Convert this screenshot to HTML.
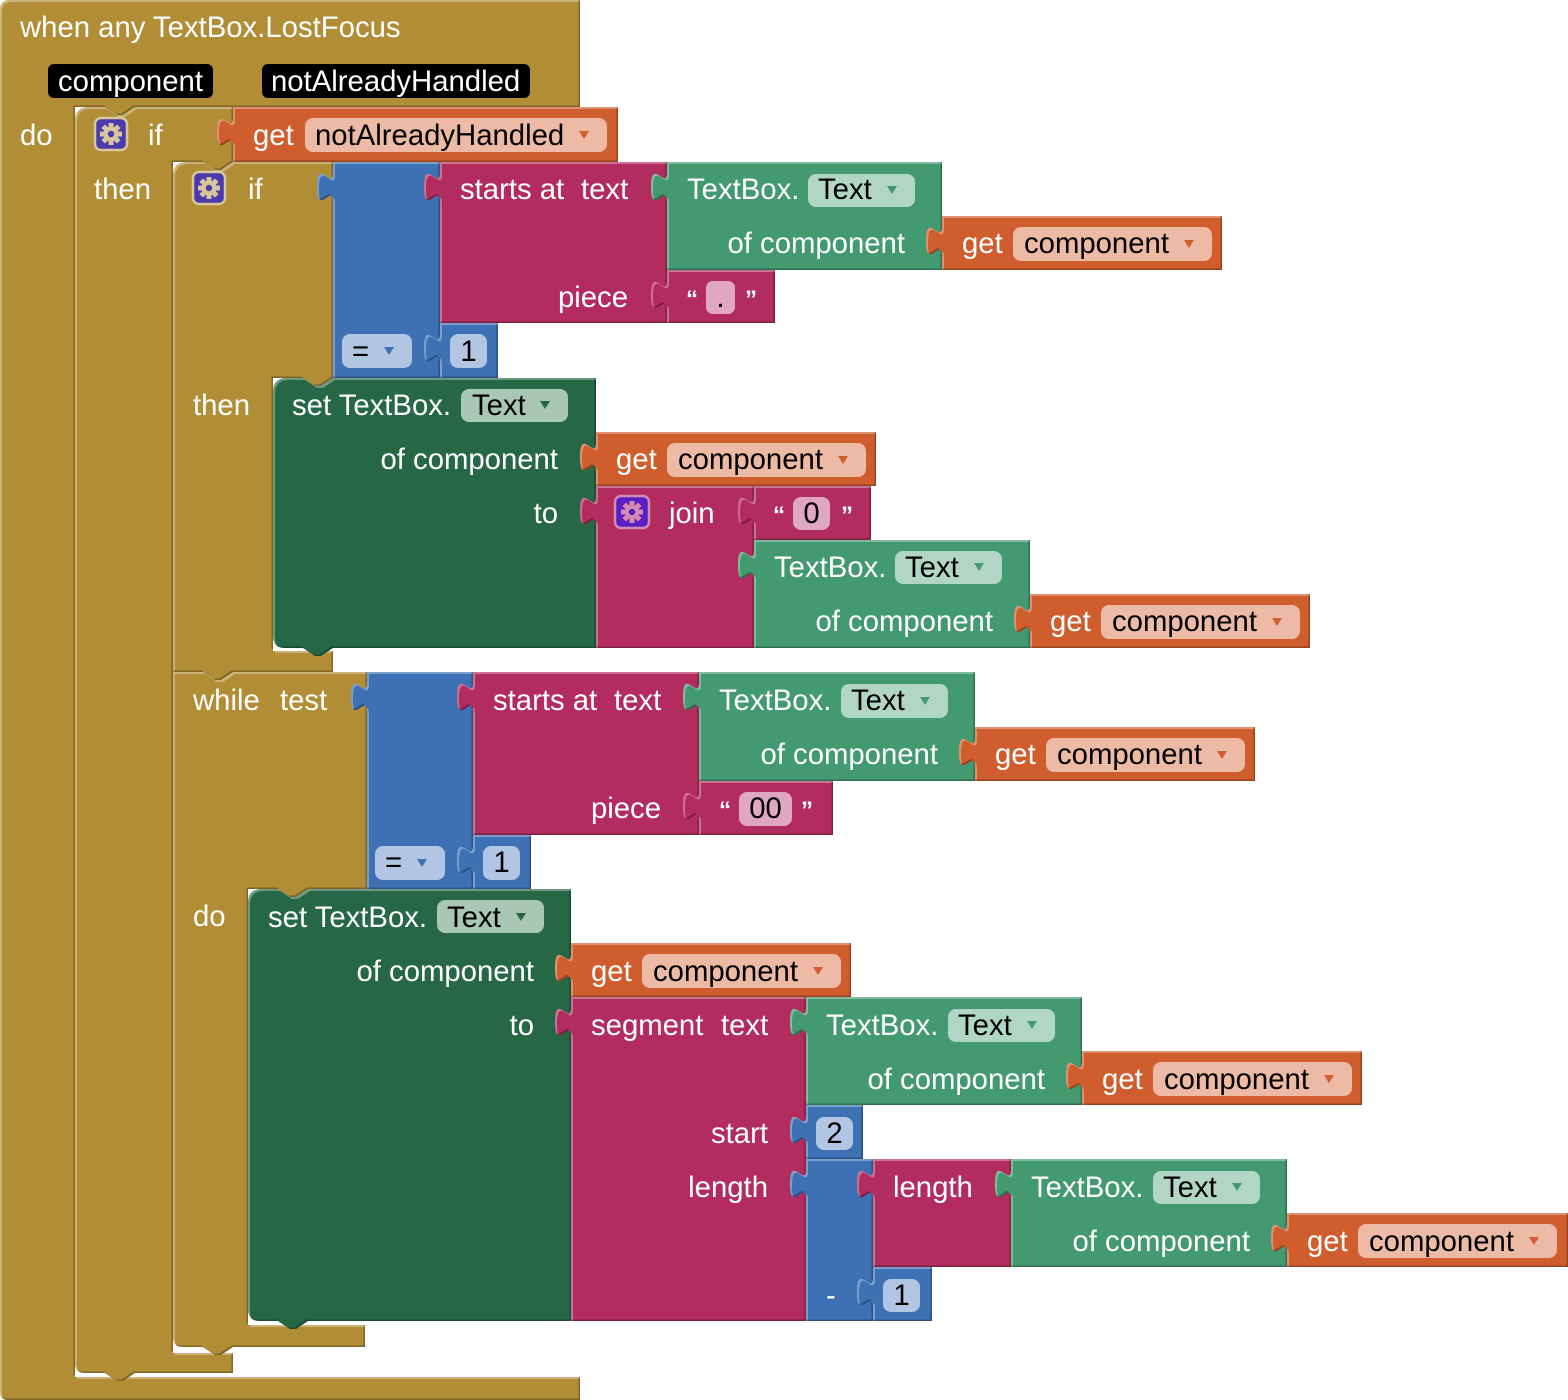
<!DOCTYPE html>
<html>
<head>
<meta charset="utf-8">
<style>
html,body{margin:0;padding:0;background:#fff;}
body{width:1568px;height:1400px;overflow:hidden;}
svg{display:block;}
.t{fill:#fff;font-family:"Liberation Sans",Arial,sans-serif;font-size:29.3px;}
.k{fill:#000;font-family:"Liberation Sans",Arial,sans-serif;font-size:29.3px;}
.q{fill:#fff;font-family:"Liberation Sans",Arial,sans-serif;font-size:24px;font-weight:bold;}
.e{text-anchor:end;}
.m{text-anchor:middle;}
</style>
</head>
<body>
<svg width="1568" height="1400" viewBox="0 0 1568 1400" xmlns="http://www.w3.org/2000/svg">
<defs>
<filter id="bv" x="-1%" y="-1%" width="102%" height="102%" color-interpolation-filters="sRGB">
 <feOffset in="SourceAlpha" dx="2" dy="2" result="a"/>
 <feComposite in="SourceAlpha" in2="a" operator="out" result="hl"/>
 <feFlood flood-color="#ffffff" flood-opacity="0.33" result="w"/>
 <feComposite in="w" in2="hl" operator="in" result="hlc"/>
 <feOffset in="SourceAlpha" dx="-1.5" dy="-1.5" result="b"/>
 <feComposite in="SourceAlpha" in2="b" operator="out" result="sh"/>
 <feFlood flood-color="#000000" flood-opacity="0.28" result="k"/>
 <feComposite in="k" in2="sh" operator="in" result="shc"/>
 <feMerge><feMergeNode in="SourceGraphic"/><feMergeNode in="hlc"/><feMergeNode in="shc"/></feMerge>
</filter>
</defs>

<!-- ===== GOLD CONTROL BLOCKS ===== -->
<path filter="url(#bv)" fill="#B18D36" d="M0,10 Q0,0 10,0 H580 V107 H135 l-12,8 h-6 l-12,-8 H75 V1377 H580 V1400 H8 Q0,1400 0,1392 Z"/>
<path filter="url(#bv)" fill="#B18D36" d="M75,121 Q75,107 89,107 H105 l12,8 h6 l12,-8 H233 V162 l-12,8 h-6 l-12,-8 H173 V1353 H233 V1373 H135 l-12,8 h-6 l-12,-8 H85 Q75,1373 75,1363 Z"/>
<path filter="url(#bv)" fill="#B18D36" d="M173,176 Q173,162 187,162 H203 l12,8 h6 l12,-8 H333 V378 l-12,8 h-6 l-12,-8 H273 V651 H333 V672 H233 l-12,8 h-6 l-12,-8 H173 Z"/>
<path filter="url(#bv)" fill="#B18D36" d="M173,672 H203 l12,8 h6 l12,-8 H367 V889 H308 l-12,8 h-6 l-12,-8 H248 V1325 H365 V1347 H233 l-12,8 h-6 l-12,-8 H183 Q173,1347 173,1337 Z"/>

<text class="t" x="20" y="37">when any TextBox.LostFocus</text>
<rect x="48" y="64" width="165" height="34" rx="6" fill="#000"/>
<text class="t" x="58" y="91">component</text>
<rect x="262" y="64" width="268" height="34" rx="6" fill="#000"/>
<text class="t" x="271" y="91">notAlreadyHandled</text>
<text class="t" x="20" y="145">do</text>

<rect x="95" y="118" width="32" height="32" rx="6" fill="#4B3AAD" stroke="#D8C79C" stroke-width="2.5"/>
<g transform="translate(111,134)" fill="#D8C79C">
 <circle r="7.5"/>
 <rect x="-2.5" y="-11" width="5" height="5"/>
 <rect x="-2.5" y="-11" width="5" height="5" transform="rotate(45)"/>
 <rect x="-2.5" y="-11" width="5" height="5" transform="rotate(90)"/>
 <rect x="-2.5" y="-11" width="5" height="5" transform="rotate(135)"/>
 <rect x="-2.5" y="-11" width="5" height="5" transform="rotate(180)"/>
 <rect x="-2.5" y="-11" width="5" height="5" transform="rotate(225)"/>
 <rect x="-2.5" y="-11" width="5" height="5" transform="rotate(270)"/>
 <rect x="-2.5" y="-11" width="5" height="5" transform="rotate(315)"/>
 <circle r="3.2" fill="#4B3AAD"/>
</g>
<text class="t" x="148" y="145">if</text>
<text class="t" x="94" y="199">then</text>

<rect x="193" y="172" width="32" height="32" rx="6" fill="#4B3AAD" stroke="#D8C79C" stroke-width="2.5"/>
<g transform="translate(209,188)" fill="#D8C79C">
 <circle r="7.5"/>
 <rect x="-2.5" y="-11" width="5" height="5"/>
 <rect x="-2.5" y="-11" width="5" height="5" transform="rotate(45)"/>
 <rect x="-2.5" y="-11" width="5" height="5" transform="rotate(90)"/>
 <rect x="-2.5" y="-11" width="5" height="5" transform="rotate(135)"/>
 <rect x="-2.5" y="-11" width="5" height="5" transform="rotate(180)"/>
 <rect x="-2.5" y="-11" width="5" height="5" transform="rotate(225)"/>
 <rect x="-2.5" y="-11" width="5" height="5" transform="rotate(270)"/>
 <rect x="-2.5" y="-11" width="5" height="5" transform="rotate(315)"/>
 <circle r="3.2" fill="#4B3AAD"/>
</g>
<text class="t" x="248" y="199">if</text>
<text class="t" x="193" y="415">then</text>
<text class="t" x="193" y="710">while</text>
<text class="t" x="280" y="710">test</text>
<text class="t" x="193" y="926">do</text>

<!-- ===== SETTERS ===== -->
<path filter="url(#bv)" fill="#266746" d="M273,392 Q273,378 287,378 H303 l12,8 h6 l12,-8 H596 V648 H333 l-12,8 h-6 l-12,-8 H285 Q273,648 273,636 Z"/>
<text class="t" x="292" y="415">set TextBox.</text>
<rect x="461" y="389" width="107" height="33" rx="8" fill="#A8C7B5"/>
<text class="k" x="472" y="415">Text</text>
<polygon points="540,401 550,401 545,409" fill="#266746"/>
<text class="t e" x="558" y="469">of component</text>
<text class="t e" x="558" y="523">to</text>

<path filter="url(#bv)" fill="#266746" d="M248,903 Q248,889 262,889 H278 l12,8 h6 l12,-8 H571 V1321 H308 l-12,8 h-6 l-12,-8 H260 Q248,1321 248,1309 Z"/>
<text class="t" x="268" y="927">set TextBox.</text>
<rect x="437" y="900" width="107" height="33" rx="8" fill="#A8C7B5"/>
<text class="k" x="447" y="927">Text</text>
<polygon points="516,913 526,913 521,921" fill="#266746"/>
<text class="t e" x="534" y="981">of component</text>
<text class="t e" x="534" y="1035">to</text>

<!-- ===== INNER IF CONDITION ===== -->
<path filter="url(#bv)" fill="#3E71B4" d="M333,162 H440 V378 H333 V202 C333,182 317,218 317,187 C317,156 333,192 333,172 Z"/>
<rect x="342" y="334" width="70" height="34" rx="8" fill="#B2C6E3"/>
<text class="k" x="352" y="361">=</text>
<polygon points="384,347 394,347 389,355" fill="#3E71B4"/>
<path filter="url(#bv)" fill="#B22C5E" d="M440,162 H667 V323 H440 V202 C440,182 424,218 424,187 C424,156 440,192 440,172 Z"/>
<text class="t" x="460" y="199">starts at</text>
<text class="t" x="581" y="199">text</text>
<text class="t e" x="628" y="307">piece</text>
<path filter="url(#bv)" fill="#439970" d="M667,162 H942 V270 H667 V202 C667,182 651,218 651,187 C651,156 667,192 667,172 Z"/>
<text class="t" x="687" y="199">TextBox.</text>
<rect x="808" y="174" width="107" height="33" rx="8" fill="#B1D6C5"/>
<text class="k" x="818" y="199">Text</text>
<polygon points="887,186 897,186 892,194" fill="#439970"/>
<text class="t e" x="905" y="253">of component</text>
<path filter="url(#bv)" fill="#D05D2D" d="M942,216 H1222 V270 H942 V256 C942,236 926,272 926,241 C926,210 942,246 942,226 Z"/>
<text class="t" x="962" y="253">get</text>
<rect x="1013" y="227" width="199" height="34" rx="8" fill="#EDBBA5"/>
<text class="k" x="1024" y="253">component</text>
<polygon points="1184,240 1194,240 1189,248" fill="#D05D2D"/>
<path filter="url(#bv)" fill="#B22C5E" d="M667,270 H775 V323 H667 V310 C667,290 651,326 651,295 C651,264 667,300 667,280 Z"/>
<text class="q" x="686" y="307">“</text>
<rect x="706" y="281" width="29" height="33" rx="7" fill="#E0A8BF"/>
<text class="k m" x="720.5" y="307">.</text>
<text class="q" x="745" y="307">”</text>
<path filter="url(#bv)" fill="#3E71B4" d="M440,323 H498 V378 H440 V363 C440,343 424,379 424,348 C424,317 440,353 440,333 Z"/>
<rect x="450" y="334" width="37" height="34" rx="8" fill="#B2C6E3"/>
<text class="k m" x="468.5" y="361">1</text>

<path filter="url(#bv)" fill="#D05D2D" d="M233,107 H618 V162 H233 V147 C233,127 217,163 217,132 C217,101 233,137 233,117 Z"/>
<text class="t" x="253" y="145">get</text>
<rect x="305" y="118" width="302" height="34" rx="8" fill="#EDBBA5"/>
<text class="k" x="315" y="145">notAlreadyHandled</text>
<polygon points="579,131 589,131 584,139" fill="#D05D2D"/>

<!-- ===== SETTER 1 VALUES ===== -->
<path filter="url(#bv)" fill="#D05D2D" d="M596,432 H876 V486 H596 V472 C596,452 580,488 580,457 C580,426 596,462 596,442 Z"/>
<text class="t" x="616" y="469">get</text>
<rect x="667" y="443" width="199" height="34" rx="8" fill="#EDBBA5"/>
<text class="k" x="678" y="469">component</text>
<polygon points="838,456 848,456 843,464" fill="#D05D2D"/>
<path filter="url(#bv)" fill="#B22C5E" d="M596,486 H754 V648 H596 V526 C596,506 580,542 580,511 C580,480 596,516 596,496 Z"/>
<rect x="615" y="496" width="34" height="32" rx="6" fill="#5A1DC6" stroke="#D38BB0" stroke-width="2.5"/>
<g transform="translate(632,512)" fill="#D38BB0">
 <circle r="7.5"/>
 <rect x="-2.5" y="-11" width="5" height="5"/>
 <rect x="-2.5" y="-11" width="5" height="5" transform="rotate(45)"/>
 <rect x="-2.5" y="-11" width="5" height="5" transform="rotate(90)"/>
 <rect x="-2.5" y="-11" width="5" height="5" transform="rotate(135)"/>
 <rect x="-2.5" y="-11" width="5" height="5" transform="rotate(180)"/>
 <rect x="-2.5" y="-11" width="5" height="5" transform="rotate(225)"/>
 <rect x="-2.5" y="-11" width="5" height="5" transform="rotate(270)"/>
 <rect x="-2.5" y="-11" width="5" height="5" transform="rotate(315)"/>
 <circle r="3.2" fill="#5A1DC6"/>
</g>
<text class="t" x="669" y="523">join</text>
<path filter="url(#bv)" fill="#B22C5E" d="M754,486 H871 V540 H754 V526 C754,506 738,542 738,511 C738,480 754,516 754,496 Z"/>
<text class="q" x="773" y="523">“</text>
<rect x="793" y="497" width="37" height="33" rx="8" fill="#E0A8BF"/>
<text class="k m" x="811.5" y="523">0</text>
<text class="q" x="841" y="523">”</text>
<path filter="url(#bv)" fill="#439970" d="M754,540 H1030 V648 H754 V580 C754,560 738,596 738,565 C738,534 754,570 754,550 Z"/>
<text class="t" x="774" y="577">TextBox.</text>
<rect x="895" y="551" width="107" height="33" rx="8" fill="#B1D6C5"/>
<text class="k" x="905" y="577">Text</text>
<polygon points="974,563 984,563 979,571" fill="#439970"/>
<text class="t e" x="993" y="631">of component</text>
<path filter="url(#bv)" fill="#D05D2D" d="M1030,594 H1310 V648 H1030 V634 C1030,614 1014,650 1014,619 C1014,588 1030,624 1030,604 Z"/>
<text class="t" x="1050" y="631">get</text>
<rect x="1101" y="605" width="199" height="34" rx="8" fill="#EDBBA5"/>
<text class="k" x="1112" y="631">component</text>
<polygon points="1272,618 1282,618 1277,626" fill="#D05D2D"/>

<!-- ===== WHILE CONDITION ===== -->
<path filter="url(#bv)" fill="#3E71B4" d="M367,672 H473 V889 H367 V712 C367,692 351,728 351,697 C351,666 367,702 367,682 Z"/>
<rect x="375" y="846" width="70" height="34" rx="8" fill="#B2C6E3"/>
<text class="k" x="385" y="872">=</text>
<polygon points="417,859 427,859 422,867" fill="#3E71B4"/>
<path filter="url(#bv)" fill="#B22C5E" d="M473,672 H699 V835 H473 V712 C473,692 457,728 457,697 C457,666 473,702 473,682 Z"/>
<text class="t" x="493" y="710">starts at</text>
<text class="t" x="614" y="710">text</text>
<text class="t e" x="661" y="818">piece</text>
<path filter="url(#bv)" fill="#439970" d="M699,672 H975 V781 H699 V712 C699,692 683,728 683,697 C683,666 699,702 699,682 Z"/>
<text class="t" x="719" y="710">TextBox.</text>
<rect x="841" y="684" width="107" height="34" rx="8" fill="#B1D6C5"/>
<text class="k" x="851" y="710">Text</text>
<polygon points="920,697 930,697 925,705" fill="#439970"/>
<text class="t e" x="938" y="764">of component</text>
<path filter="url(#bv)" fill="#D05D2D" d="M975,727 H1255 V781 H975 V767 C975,747 959,783 959,752 C959,721 975,757 975,737 Z"/>
<text class="t" x="995" y="764">get</text>
<rect x="1046" y="738" width="199" height="34" rx="8" fill="#EDBBA5"/>
<text class="k" x="1057" y="764">component</text>
<polygon points="1217,751 1227,751 1222,759" fill="#D05D2D"/>
<path filter="url(#bv)" fill="#B22C5E" d="M699,781 H833 V835 H699 V821 C699,801 683,837 683,806 C683,775 699,811 699,791 Z"/>
<text class="q" x="719" y="818">“</text>
<rect x="739" y="792" width="53" height="34" rx="8" fill="#E0A8BF"/>
<text class="k m" x="765.5" y="818">00</text>
<text class="q" x="801" y="818">”</text>
<path filter="url(#bv)" fill="#3E71B4" d="M473,835 H531 V889 H473 V875 C473,855 457,891 457,860 C457,829 473,865 473,845 Z"/>
<rect x="483" y="846" width="37" height="34" rx="8" fill="#B2C6E3"/>
<text class="k m" x="501.5" y="872">1</text>

<!-- ===== SETTER 2 VALUES ===== -->
<path filter="url(#bv)" fill="#D05D2D" d="M571,943 H851 V997 H571 V983 C571,963 555,999 555,968 C555,937 571,973 571,953 Z"/>
<text class="t" x="591" y="981">get</text>
<rect x="642" y="954" width="199" height="34" rx="8" fill="#EDBBA5"/>
<text class="k" x="653" y="981">component</text>
<polygon points="813,967 823,967 818,975" fill="#D05D2D"/>
<path filter="url(#bv)" fill="#B22C5E" d="M571,997 H806 V1321 H571 V1037 C571,1017 555,1053 555,1022 C555,991 571,1027 571,1007 Z"/>
<text class="t" x="591" y="1035">segment</text>
<text class="t" x="721" y="1035">text</text>
<text class="t e" x="768" y="1143">start</text>
<text class="t e" x="768" y="1197">length</text>
<path filter="url(#bv)" fill="#439970" d="M806,997 H1082 V1105 H806 V1037 C806,1017 790,1053 790,1022 C790,991 806,1027 806,1007 Z"/>
<text class="t" x="826" y="1035">TextBox.</text>
<rect x="948" y="1009" width="107" height="33" rx="8" fill="#B1D6C5"/>
<text class="k" x="958" y="1035">Text</text>
<polygon points="1027,1021 1037,1021 1032,1029" fill="#439970"/>
<text class="t e" x="1045" y="1089">of component</text>
<path filter="url(#bv)" fill="#D05D2D" d="M1082,1051 H1362 V1105 H1082 V1091 C1082,1071 1066,1107 1066,1076 C1066,1045 1082,1081 1082,1061 Z"/>
<text class="t" x="1102" y="1089">get</text>
<rect x="1153" y="1062" width="199" height="34" rx="8" fill="#EDBBA5"/>
<text class="k" x="1164" y="1089">component</text>
<polygon points="1324,1075 1334,1075 1329,1083" fill="#D05D2D"/>
<path filter="url(#bv)" fill="#3E71B4" d="M806,1105 H863 V1159 H806 V1145 C806,1125 790,1161 790,1130 C790,1099 806,1135 806,1115 Z"/>
<rect x="816" y="1117" width="37" height="33" rx="8" fill="#B2C6E3"/>
<text class="k m" x="834.5" y="1143">2</text>
<path filter="url(#bv)" fill="#3E71B4" d="M806,1159 H873 V1321 H806 V1199 C806,1179 790,1215 790,1184 C790,1153 806,1189 806,1169 Z"/>
<text class="t" x="826" y="1305">-</text>
<path filter="url(#bv)" fill="#B22C5E" d="M873,1159 H1011 V1267 H873 V1199 C873,1179 857,1215 857,1184 C857,1153 873,1189 873,1169 Z"/>
<text class="t" x="893" y="1197">length</text>
<path filter="url(#bv)" fill="#439970" d="M1011,1159 H1287 V1267 H1011 V1199 C1011,1179 995,1215 995,1184 C995,1153 1011,1189 1011,1169 Z"/>
<text class="t" x="1031" y="1197">TextBox.</text>
<rect x="1153" y="1171" width="107" height="33" rx="8" fill="#B1D6C5"/>
<text class="k" x="1163" y="1197">Text</text>
<polygon points="1232,1183 1242,1183 1237,1191" fill="#439970"/>
<text class="t e" x="1250" y="1251">of component</text>
<path filter="url(#bv)" fill="#D05D2D" d="M1287,1213 H1568 V1267 H1287 V1253 C1287,1233 1271,1269 1271,1238 C1271,1207 1287,1243 1287,1223 Z"/>
<text class="t" x="1307" y="1251">get</text>
<rect x="1358" y="1224" width="199" height="34" rx="8" fill="#EDBBA5"/>
<text class="k" x="1369" y="1251">component</text>
<polygon points="1529,1237 1539,1237 1534,1245" fill="#D05D2D"/>
<path filter="url(#bv)" fill="#3E71B4" d="M873,1267 H932 V1321 H873 V1307 C873,1287 857,1323 857,1292 C857,1261 873,1297 873,1277 Z"/>
<rect x="883" y="1279" width="37" height="33" rx="8" fill="#B2C6E3"/>
<text class="k m" x="901.5" y="1305">1</text>
</svg>
</body>
</html>
